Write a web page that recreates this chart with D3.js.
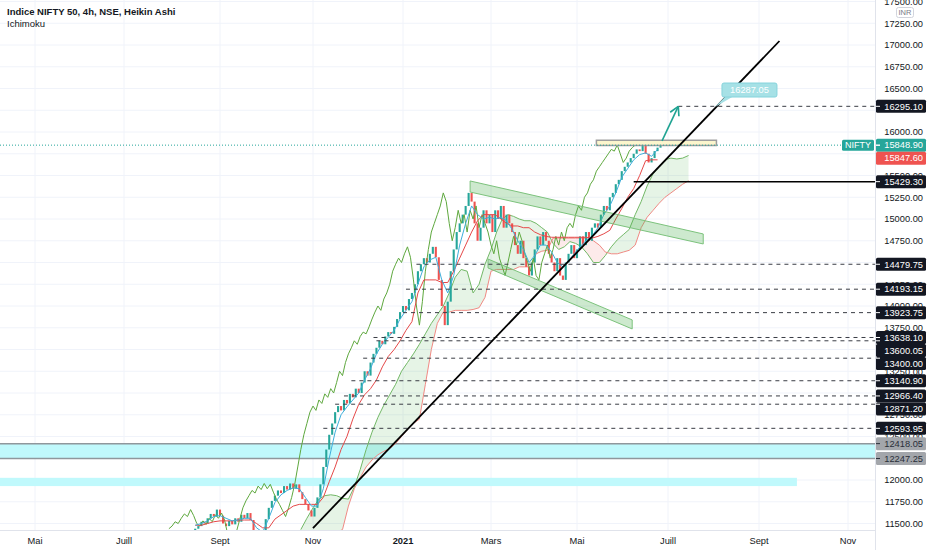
<!DOCTYPE html>
<html><head><meta charset="utf-8">
<script src="https://cdn.jsdelivr.net/npm/d3@7/dist/d3.min.js"></script>
<style>body{margin:0;background:#fff;overflow:hidden}svg{display:block;font-family:"Liberation Sans",Arial,sans-serif}</style>
</head><body><svg id="c" width="932" height="550"></svg>
<script>
// ---------------- DATA ----------------
const titleText = "Indice NIFTY 50, 4h, NSE, Heikin Ashi";
const subTitle = "Ichimoku";
const timeTickDates = ["2020-05-01","2020-07-01","2020-09-01","2020-11-01","2021-01-01","2021-03-01","2021-05-01","2021-07-01","2021-09-01","2021-11-01"];
const timeTickLabels = ["Mai","Juill","Sept","Nov","2021","Mars","Mai","Juill","Sept","Nov"];
const priceTicks = [11500,11750,12000,12250,12500,12750,13000,13250,13500,13750,14000,14250,14500,14750,15000,15250,15500,15750,16000,16250,16500,16750,17000,17250,17500];

const candleStart = "2020-08-16", candleStepDays = 2;
const haClose = [11440,11470,11520,11500,11560,11610,11580,11660,11590,11500,
 11470,11530,11490,11560,11520,11600,11560,11620,11540,11380,
 11250,11300,11420,11550,11680,11760,11820,11880,11850,11930,
 11890,11960,11900,11950,11860,11780,11720,11650,11580,11680,
 11800,11950,12150,12350,12520,12650,12780,12850,12800,12920,
 12880,12990,12950,13050,13000,13120,13250,13200,13350,13450,
 13520,13600,13560,13650,13700,13680,13760,13850,13930,14000,
 13950,14080,14150,14250,14400,14480,14550,14500,14600,14680,
 14560,14300,14000,13780,14050,14400,14650,14850,14950,15050,
 15150,15300,15200,14950,14750,14900,15100,14950,15050,14850,
 15100,15000,15150,14900,15050,14950,14850,14700,14600,14750,
 14550,14450,14350,14500,14650,14800,14700,14850,14750,14600,
 14500,14400,14550,14350,14300,14500,14600,14700,14550,14650,
 14800,14700,14850,14750,14900,14950,14900,15050,15150,15100,
 15250,15300,15400,15450,15550,15600,15650,15700,15750,15800,
 15780,15850,15750,15650,15700,15780,15820,15849];

const lineStart = "2020-08-16", lineStepDays = 4;
const tenkan = [11480,11500,11530,11580,11590,11560,11530,11540,11560,11560,
 11450,11400,11560,11740,11830,11880,11910,11900,11800,11700,
 11700,11900,12250,12550,12750,12840,12920,13000,13150,13280,
 13450,13560,13640,13720,13850,13950,14050,14250,14450,14530,
 14560,14300,14150,14350,14700,14950,15150,15050,15000,15020,
 15000,15020,14980,14880,14750,14650,14500,14580,14700,14700,
 14620,14500,14450,14520,14600,14680,14750,14800,14900,15050,
 15150,15300,15480,15580,15680,15740,15760,15720,15800];
const kijun = [11480,11480,11500,11520,11530,11530,11530,11540,11540,11540,
 11500,11450,11450,11550,11600,11650,11700,11720,11720,11720,
 11720,11800,11980,12150,12350,12500,12700,12870,12980,13050,
 13150,13300,13420,13500,13600,13720,13820,14150,14300,14300,
 14300,14270,14270,14400,14550,14700,14850,14980,15050,15050,
 15050,15000,14950,14920,14920,14900,14900,14850,14820,14800,
 14790,14790,14790,14790,14790,14790,14790,14780,14800,14830,
 14870,15000,15120,15250,15350,15500,15670,15680,15680];

const cloudStart = "2020-10-24", cloudStepDays = 4;
const senkouA = [11430,11560,11680,11780,11820,11830,11820,11790,11780,11920,
 12120,12350,12550,12720,12860,12980,13100,13250,13350,13450,
 13560,13680,13800,13900,14000,14150,14330,14420,14400,14150,
 14250,14480,14650,14850,15000,15050,15030,15000,14980,14980,
 14950,14900,14850,14720,14650,14680,14740,14720,14680,14600,
 14500,14500,14580,14680,14760,14820,14880,15050,15200,15380,
 15520,15600,15680,15700,15690,15700,15730];
const senkouB = [11300,11300,11300,11300,11350,11380,11400,11430,11700,11900,
 12030,12150,12230,12290,12330,12360,12420,12500,12580,12650,
 12700,13100,13500,13800,13930,13930,13950,13950,13950,13960,
 13980,14100,14400,14420,14420,14420,14420,14450,14450,14450,
 14600,14630,14640,14780,14780,14780,14780,14780,14780,14780,
 14750,14700,14620,14600,14600,14620,14640,14700,14900,15020,
 15100,15180,15250,15300,15350,15400,15440];
const chikouShiftDays = 17;

const lastPrice = 15848.90, prevPrice = 15847.60, symbol = "NIFTY";
const dashedLevels = [16295.10,14479.75,14193.15,13923.75,13638.10,13600.05,13400.00,13140.90,12966.40,12871.20,12593.95];
const dashedStarts = ["2021-07-08","2021-01-10","2021-01-03","2021-01-01","2020-12-12","2020-12-14","2020-12-05","2020-11-27","2020-11-22","2020-11-16","2020-11-08"];
const solidLevel = 15429.30, solidStart = "2021-06-08";
const zoneTop = 12418.05, zoneBottom = 12247.25;
const zone2Prices = [12025, 11930], zone2End = "2021-09-27";
const upperBandDates = ["2021-02-15","2021-07-25"], upperBandTop = [15437,14828], upperBandBottom = [15310,14713];
const lowerBandDates = ["2021-02-27","2021-06-07"], lowerBandTop = [14540,13840], lowerBandBottom = [14437,13736];
const trendDates = ["2020-11-01","2021-09-15"], trendPrices = [11448,17046];
const boxDates = ["2021-05-14","2021-08-03"], boxPrices = [15905,15845];
const arrowDates = ["2021-06-27","2021-07-08"], arrowPrices = [15897,16295.10];
const noteDate = "2021-08-02", notePrice = 16287.05;

// ---------------- CHART ----------------
const parse = d3.timeParse("%Y-%m-%d");
const svg = d3.select("#c");
const PR = 875, PB = 530;
const x = d3.scaleTime().domain(timeTickDates.map(parse)).range([35,124,220,313,403,491,577,668,759,848]);
const y = d3.scaleLinear().domain([11500,17500]).range([523.5,1.5]);
const fmt = d3.format(".2f");
const ink = "#131722";

svg.append("defs").append("clipPath").attr("id","pc").append("rect").attr("x",0).attr("y",0).attr("width",PR).attr("height",PB);

// grid
const grid = svg.append("g").attr("stroke","#f0f3fa").attr("stroke-width",1);
priceTicks.forEach(p=>grid.append("line").attr("x1",0).attr("x2",PR).attr("y1",y(p)).attr("y2",y(p)));
timeTickDates.forEach(d=>grid.append("line").attr("x1",x(parse(d))).attr("x2",x(parse(d))).attr("y1",0).attr("y2",PB));

const g = svg.append("g").attr("clip-path","url(#pc)");

// zones
g.append("rect").attr("x",0).attr("width",PR).attr("y",y(zoneTop)).attr("height",y(zoneBottom)-y(zoneTop)).attr("fill","#c0f9fc");
[zoneTop,zoneBottom].forEach(p=>g.append("line").attr("x1",0).attr("x2",PR).attr("y1",y(p)).attr("y2",y(p)).attr("stroke","#8f979c").attr("stroke-width",1.5));
g.append("rect").attr("x",0).attr("width",x(parse(zone2End))).attr("y",y(zone2Prices[0])).attr("height",y(zone2Prices[1])-y(zone2Prices[0])).attr("fill","#c0f9fc");

// cloud
const cDate = k=>d3.timeDay.offset(parse(cloudStart), k*cloudStepDays);
let gp="", rp="";
for(let k=0;k<senkouA.length-1;k++){
  const xa=x(cDate(k)), xb=x(cDate(k+1));
  const a0=senkouA[k], a1=senkouA[k+1], b0=senkouB[k], b1=senkouB[k+1];
  const d0=a0-b0, d1=a1-b1;
  if(d0*d1<0){
    const t=d0/(d0-d1), xm=xa+t*(xb-xa), ym=y(a0+t*(a1-a0));
    const p1=`M${xa},${y(a0)}L${xm},${ym}L${xa},${y(b0)}Z`;
    const p2=`M${xm},${ym}L${xb},${y(a1)}L${xb},${y(b1)}Z`;
    if(d0>0){gp+=p1;rp+=p2;}else{rp+=p1;gp+=p2;}
  } else {
    const p=`M${xa},${y(a0)}L${xb},${y(a1)}L${xb},${y(b1)}L${xa},${y(b0)}Z`;
    if(d0+d1>=0) gp+=p; else rp+=p;
  }
}
g.append("path").attr("d",gp).attr("fill","rgba(76,175,80,0.14)");
g.append("path").attr("d",rp).attr("fill","rgba(239,83,80,0.12)");
const cloudLine = arr=>d3.line().x((v,k)=>x(cDate(k))).y(v=>y(v))(arr);
g.append("path").attr("d",cloudLine(senkouA)).attr("fill","none").attr("stroke","#72b866").attr("stroke-width",1);
g.append("path").attr("d",cloudLine(senkouB)).attr("fill","none").attr("stroke","#f08a84").attr("stroke-width",1);

// candles
const kDate = i=>d3.timeDay.offset(parse(candleStart), i*candleStepDays);
haClose.forEach((c,i)=>{
  const o = i? haClose[i-1] : c;
  const up = c>=o;
  let y1=y(Math.max(o,c)), y2=y(Math.min(o,c));
  if(y2-y1<1.5){y2=y1+1.5;}
  g.append("line").attr("x1",x(kDate(i))).attr("x2",x(kDate(i))).attr("y1",y1).attr("y2",y2)
    .attr("stroke",up?"#26a69a":"#ef5350").attr("stroke-width",2.1);
});

// chikou
g.append("path").attr("d",d3.line().x((v,i)=>x(d3.timeDay.offset(kDate(i),-chikouShiftDays))).y(v=>y(v))(haClose))
  .attr("fill","none").attr("stroke","#5ea83e").attr("stroke-width",1);
// kijun & tenkan
const lDate = j=>d3.timeDay.offset(parse(lineStart), j*lineStepDays);
const lline = arr=>d3.line().x((v,j)=>x(lDate(j))).y(v=>y(v))(arr);
g.append("path").attr("d",lline(kijun)).attr("fill","none").attr("stroke","#e54848").attr("stroke-width",1);
g.append("path").attr("d",lline(tenkan)).attr("fill","none").attr("stroke","#3eaedb").attr("stroke-width",1);

// channel bands
function band(dates, top, bot){
  const d=`M${x(parse(dates[0]))},${y(top[0])}L${x(parse(dates[1]))},${y(top[1])}L${x(parse(dates[1]))},${y(bot[1])}L${x(parse(dates[0]))},${y(bot[0])}Z`;
  g.append("path").attr("d",d).attr("fill","rgba(76,175,80,0.28)").attr("stroke","#7cc27c").attr("stroke-width",1);
}
band(upperBandDates, upperBandTop, upperBandBottom);
band(lowerBandDates, lowerBandTop, lowerBandBottom);

// yellow box
g.append("rect").attr("x",x(parse(boxDates[0]))).attr("y",y(boxPrices[0]))
  .attr("width",x(parse(boxDates[1]))-x(parse(boxDates[0]))).attr("height",y(boxPrices[1])-y(boxPrices[0]))
  .attr("fill","rgba(251,244,196,0.85)").attr("stroke","#9e9e9e").attr("stroke-width",1.5);

// last price dotted line
g.append("line").attr("x1",0).attr("x2",PR).attr("y1",y(lastPrice)).attr("y2",y(lastPrice))
  .attr("stroke","#26a69a").attr("stroke-width",1).attr("stroke-dasharray","1,2");

// dashed levels
dashedLevels.forEach((p,i)=>g.append("line").attr("x1",x(parse(dashedStarts[i]))).attr("x2",PR).attr("y1",y(p)).attr("y2",y(p))
  .attr("stroke","#3a3d45").attr("stroke-width",1).attr("stroke-dasharray","4,4"));
g.append("line").attr("x1",x(parse(solidStart))).attr("x2",PR).attr("y1",y(solidLevel)).attr("y2",y(solidLevel))
  .attr("stroke","#000").attr("stroke-width",1.5);

// trend line
g.append("line").attr("x1",x(parse(trendDates[0]))).attr("y1",y(trendPrices[0])).attr("x2",x(parse(trendDates[1]))).attr("y2",y(trendPrices[1]))
  .attr("stroke","#000").attr("stroke-width",1.8);

// arrow
const ax0=x(parse(arrowDates[0])), ay0=y(arrowPrices[0]), ax1=x(parse(arrowDates[1])), ay1=y(arrowPrices[1]);
const ang=Math.atan2(ay1-ay0, ax1-ax0);
g.append("line").attr("x1",ax0).attr("y1",ay0).attr("x2",ax1).attr("y2",ay1).attr("stroke","#1fa392").attr("stroke-width",1.6);
[-0.5,0.5].forEach(s=>g.append("line").attr("x1",ax1).attr("y1",ay1)
  .attr("x2",ax1-10*Math.cos(ang+s)).attr("y2",ay1-10*Math.sin(ang+s)).attr("stroke","#1fa392").attr("stroke-width",1.6));

// note callout
const nx=x(parse(noteDate)), ny=y(notePrice);
g.append("path").attr("d",`M${nx},${ny}L${nx+11},${ny-11}L${nx+19},${ny-11}Z`).attr("fill","#a6e1e6");
g.append("rect").attr("x",nx+7).attr("y",ny-24).attr("width",55).attr("height",14).attr("rx",2)
  .attr("fill","#a6e1e6").attr("stroke","#86d4dc").attr("stroke-width",1);
g.append("text").attr("x",nx+34.5).attr("y",ny-13.8).attr("text-anchor","middle").attr("fill","#fff")
  .attr("font-size","9.3px").text(fmt(notePrice));

// axes borders
svg.append("line").attr("x1",PR+0.5).attr("x2",PR+0.5).attr("y1",0).attr("y2",550).attr("stroke","#e0e3eb");
svg.append("line").attr("x1",0).attr("x2",PR).attr("y1",PB+0.5).attr("y2",PB+0.5).attr("stroke","#e0e3eb");

// boxed labels with de-overlap
const labels = [];
dashedLevels.forEach(p=>labels.push({p,bg:"#131722",fg:"#fff"}));
labels.push({p:solidLevel,bg:"#131722",fg:"#fff"});
labels.push({p:lastPrice,bg:"#26a69a",fg:"#fff",sym:true});
labels.push({p:prevPrice,bg:"#ef5350",fg:"#fff"});
[zoneTop,zoneBottom].forEach(p=>labels.push({p,bg:"#a3a6ab",fg:"#2a2e39"}));
labels.sort((a,b)=>b.p-a.p);
labels.forEach((l,i)=>{ l.ly=y(l.p); if(i>0 && l.ly<labels[i-1].ly+13) l.ly=labels[i-1].ly+13; });

// price axis labels (those fully hidden behind a boxed label are skipped)
priceTicks.forEach(p=>{
  const ty=y(p);
  if(labels.some(l=>Math.abs(l.ly-ty)<4.5)) return;
  svg.append("text").attr("x",923).attr("y",ty+3.3).attr("text-anchor","end")
    .attr("fill",ink).attr("font-size","9.3px").text(fmt(p));
});

// INR badge
svg.append("rect").attr("x",896.5).attr("y",7.5).attr("width",17).attr("height",10).attr("rx",2)
  .attr("fill","#fff").attr("stroke","#d1d4dc");
svg.append("text").attr("x",905).attr("y",15.3).attr("text-anchor","middle").attr("fill","#787b86").attr("font-size","7.5px").text("INR");

labels.forEach(l=>{
  svg.append("rect").attr("x",876).attr("y",l.ly-6.5).attr("width",50).attr("height",13).attr("rx",1.5).attr("fill",l.bg);
  svg.append("line").attr("x1",876).attr("x2",880).attr("y1",y(l.p)).attr("y2",y(l.p)).attr("stroke",l.fg).attr("stroke-width",1);
  svg.append("text").attr("x",923).attr("y",l.ly+3.3).attr("text-anchor","end").attr("fill",l.fg).attr("font-size","9.3px").text(fmt(l.p));
  if(l.sym){
    svg.append("rect").attr("x",842).attr("y",l.ly-5.5).attr("width",32).attr("height",11).attr("rx",1.5).attr("fill",l.bg);
    svg.append("text").attr("x",858).attr("y",l.ly+3.2).attr("text-anchor","middle").attr("fill","#fff").attr("font-size","9px").text(symbol);
  }
});

// time labels
timeTickDates.forEach((d,i)=>svg.append("text").attr("x",x(parse(d))).attr("y",543.5).attr("text-anchor","middle")
  .attr("fill",ink).attr("font-size","9.3px").attr("font-weight",timeTickLabels[i]==="2021"?"bold":"normal").text(timeTickLabels[i]));

// legend
svg.append("text").attr("x",7).attr("y",15).attr("fill",ink).attr("font-size","9.5px").attr("font-weight","bold").text(titleText);
svg.append("text").attr("x",7).attr("y",27).attr("fill",ink).attr("font-size","9.5px").text(subTitle);
</script></body></html>
